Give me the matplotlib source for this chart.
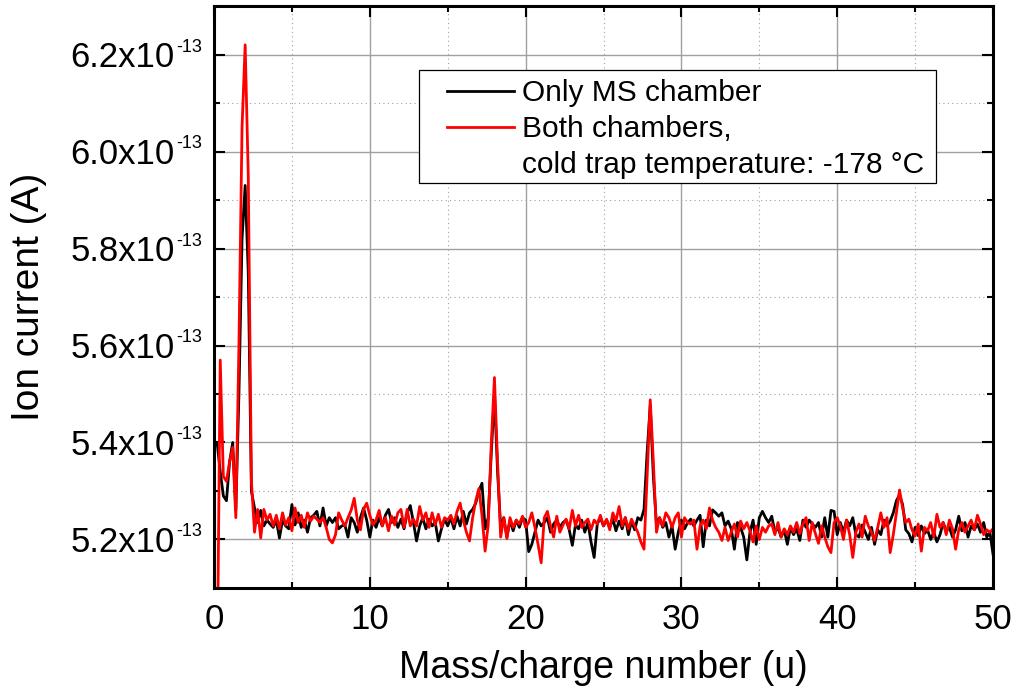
import numpy as np
import matplotlib
matplotlib.use('Agg')
import matplotlib.pyplot as plt
from matplotlib.lines import Line2D
from matplotlib.patches import Rectangle
from matplotlib.transforms import offset_copy

plt.rcParams['font.family'] = ['Liberation Sans', 'DejaVu Sans']

# mass axis, one reading every 0.2 u
mass = np.round(np.arange(1, 251) * 0.2, 1)

# ion current in units of 1e-13 A
only_ms = [
    5.40, 5.34, 5.29, 5.28, 5.36, 5.40, 5.26, 5.50, 5.82, 5.93,
    5.75, 5.30, 5.265, 5.235, 5.26, 5.228, 5.24, 5.232, 5.225, 5.24,
    5.203, 5.24, 5.228, 5.222, 5.272, 5.23, 5.255, 5.225, 5.24, 5.215,
    5.245, 5.25, 5.258, 5.228, 5.265, 5.228, 5.245, 5.235, 5.245, 5.222,
    5.228, 5.23, 5.205, 5.245, 5.235, 5.215, 5.245, 5.265, 5.24, 5.205,
    # 10 - 20
    5.24, 5.225, 5.245, 5.228, 5.25, 5.262, 5.235, 5.245, 5.225, 5.242,
    5.222, 5.255, 5.27, 5.235, 5.197, 5.228, 5.245, 5.222, 5.242, 5.228,
    5.235, 5.197, 5.222, 5.242, 5.228, 5.245, 5.222, 5.248, 5.228, 5.258,
    5.232, 5.255, 5.262, 5.275, 5.30, 5.316, 5.222, 5.245, 5.38, 5.50,
    5.34, 5.225, 5.245, 5.205, 5.24, 5.218, 5.24, 5.225, 5.245, 5.24,
    # 20 - 30
    5.175, 5.19, 5.215, 5.24, 5.228, 5.235, 5.245, 5.215, 5.232, 5.24,
    5.225, 5.235, 5.24, 5.22, 5.188, 5.23, 5.222, 5.24, 5.215, 5.235,
    5.195, 5.163, 5.232, 5.245, 5.228, 5.24, 5.225, 5.242, 5.218, 5.238,
    5.222, 5.245, 5.21, 5.238, 5.22, 5.245, 5.24, 5.262, 5.38, 5.476,
    5.33, 5.23, 5.245, 5.225, 5.235, 5.205, 5.228, 5.18, 5.215, 5.24,
    # 30 - 40
    5.222, 5.235, 5.242, 5.228, 5.24, 5.25, 5.185, 5.24, 5.228, 5.261,
    5.255, 5.248, 5.255, 5.228, 5.238, 5.222, 5.18, 5.235, 5.225, 5.205,
    5.158, 5.215, 5.24, 5.19, 5.245, 5.258, 5.245, 5.235, 5.248, 5.215,
    5.225, 5.205, 5.22, 5.19, 5.225, 5.21, 5.222, 5.198, 5.24, 5.225,
    5.24, 5.232, 5.225, 5.235, 5.205, 5.245, 5.205, 5.26, 5.258, 5.21,
    # 40 - 50
    5.235, 5.215, 5.24, 5.228, 5.245, 5.21, 5.205, 5.23, 5.215, 5.20,
    5.225, 5.19, 5.22, 5.21, 5.24, 5.228, 5.238, 5.255, 5.28, 5.292,
    5.272, 5.22, 5.212, 5.195, 5.225, 5.208, 5.228, 5.212, 5.22, 5.20,
    5.215, 5.195, 5.21, 5.235, 5.218, 5.225, 5.205, 5.22, 5.248, 5.218,
    5.235, 5.205, 5.228, 5.22, 5.232, 5.215, 5.235, 5.205, 5.215, 5.17,
]

both_chambers = [
    4.90, 5.57, 5.33, 5.32, 5.36, 5.39, 5.245, 5.60, 6.05, 6.22,
    5.95, 5.32, 5.215, 5.262, 5.203, 5.262, 5.24, 5.252, 5.228, 5.25,
    5.222, 5.255, 5.23, 5.245, 5.218, 5.265, 5.235, 5.25, 5.225, 5.255,
    5.238, 5.248, 5.242, 5.235, 5.245, 5.225, 5.20, 5.193, 5.21, 5.255,
    5.24, 5.228, 5.245, 5.26, 5.285, 5.24, 5.22, 5.262, 5.275, 5.25,
    # 10 - 20
    5.23, 5.24, 5.26, 5.228, 5.245, 5.218, 5.248, 5.23, 5.255, 5.262,
    5.225, 5.262, 5.228, 5.242, 5.228, 5.268, 5.24, 5.255, 5.225, 5.255,
    5.23, 5.252, 5.225, 5.245, 5.24, 5.25, 5.232, 5.258, 5.275, 5.24,
    5.215, 5.197, 5.245, 5.28, 5.305, 5.25, 5.176, 5.23, 5.40, 5.534,
    5.36, 5.205, 5.245, 5.202, 5.245, 5.225, 5.24, 5.232, 5.248, 5.225,
    # 20 - 30
    5.235, 5.255, 5.225, 5.19, 5.152, 5.245, 5.258, 5.228, 5.205, 5.248,
    5.215, 5.23, 5.242, 5.222, 5.26, 5.228, 5.25, 5.225, 5.235, 5.242,
    5.22, 5.24, 5.232, 5.25, 5.228, 5.242, 5.22, 5.255, 5.238, 5.268,
    5.228, 5.245, 5.222, 5.242, 5.228, 5.215, 5.195, 5.18, 5.33, 5.488,
    5.36, 5.215, 5.245, 5.228, 5.255, 5.245, 5.225, 5.245, 5.255, 5.205,
    # 30 - 40
    5.245, 5.235, 5.232, 5.24, 5.18, 5.228, 5.24, 5.222, 5.265, 5.24,
    5.225, 5.215, 5.198, 5.225, 5.198, 5.215, 5.232, 5.205, 5.238, 5.222,
    5.235, 5.218, 5.195, 5.228, 5.20, 5.225, 5.215, 5.228, 5.232, 5.21,
    5.235, 5.205, 5.222, 5.21, 5.228, 5.215, 5.235, 5.212, 5.232, 5.245,
    5.198, 5.235, 5.212, 5.192, 5.228, 5.205, 5.185, 5.173, 5.235, 5.245,
    # 40 - 50
    5.228, 5.20, 5.24, 5.21, 5.163, 5.215, 5.232, 5.205, 5.248, 5.228,
    5.215, 5.198, 5.225, 5.255, 5.225, 5.245, 5.173, 5.21, 5.255, 5.302,
    5.265, 5.235, 5.242, 5.22, 5.207, 5.232, 5.176, 5.225, 5.218, 5.235,
    5.205, 5.252, 5.225, 5.235, 5.21, 5.24, 5.222, 5.18, 5.22, 5.235,
    5.215, 5.228, 5.24, 5.22, 5.25, 5.232, 5.21, 5.22, 5.215, 5.222,
]

x_major = [0, 10, 20, 30, 40, 50]
x_minor = [5, 15, 25, 35, 45]
y_major = [5.2, 5.4, 5.6, 5.8, 6.0, 6.2]
y_minor = [5.3, 5.5, 5.7, 5.9, 6.1]
y_mantissa = ['5.2', '5.4', '5.6', '5.8', '6.0', '6.2']
y_exponent = '-13'

legend_labels = ['Only MS chamber', 'Both chambers,', 'cold trap temperature: -178 \u00b0C']

fig = plt.figure(figsize=(10.16, 6.95), dpi=100)
ax = fig.add_axes([214 / 1016, 1 - 588 / 695, 779 / 1016, 582 / 695])

l1, = ax.plot(mass, only_ms, color='black', lw=2.0, solid_joinstyle='round')
l2, = ax.plot(mass, both_chambers, color='#ff0000', lw=2.0, solid_joinstyle='round')

ax.set_xlim(0, 50)
ax.set_ylim(5.1, 6.3)
ax.set_xticks(x_major)
ax.set_xticks(x_minor, minor=True)
ax.set_yticks(y_major)
ax.set_yticks(y_minor, minor=True)
ax.set_yticklabels([])

ax.set_axisbelow(True)
ax.grid(which='major', color='#a0a0a0', lw=1.0, ls='-')
ax.grid(which='minor', color='#a0a0a0', lw=0.8, ls=(0, (1, 3)))

ax.tick_params(which='both', direction='in', top=True, right=True, width=1.5)
ax.tick_params(which='major', length=8, labelsize=25, pad=11)
ax.tick_params(which='minor', length=4.5)
for s in ax.spines.values():
    s.set_linewidth(2.2)

# y tick labels written as mantissa + raised exponent
tr_m = offset_copy(ax.get_yaxis_transform(), fig=fig, x=-39, y=-12.5, units='dots')
tr_e = offset_copy(ax.get_yaxis_transform(), fig=fig, x=-38, y=3, units='dots')
for v, m in zip(y_major, y_mantissa):
    ax.text(0, v, m + 'x10', transform=tr_m, ha='right', va='baseline', fontsize=25)
    ax.text(0, v, y_exponent, transform=tr_e, ha='left', va='baseline', fontsize=13)

ax.set_xlabel('Mass/charge number (u)', fontsize=27)
ax.xaxis.set_label_coords(0.5, -0.106)
ax.set_ylabel('Ion current (A)', fontsize=28)
ax.yaxis.set_label_coords(-0.214, 0.5)

# legend box
ax.add_patch(Rectangle((0.2632, 0.6959), 0.6636, 0.194, transform=ax.transAxes,
                       facecolor='white', edgecolor='black', lw=0.9, zorder=4.5))
blank = Line2D([], [], color='none')
ax.legend([l1, l2, blank], legend_labels, loc='upper left',
          bbox_to_anchor=(0.2991, 0.8744), frameon=False, fontsize=21.5,
          handlelength=2.25, handletextpad=0.25, labelspacing=0.27,
          borderpad=0, borderaxespad=0)

fig.savefig('out.png', dpi=100)
